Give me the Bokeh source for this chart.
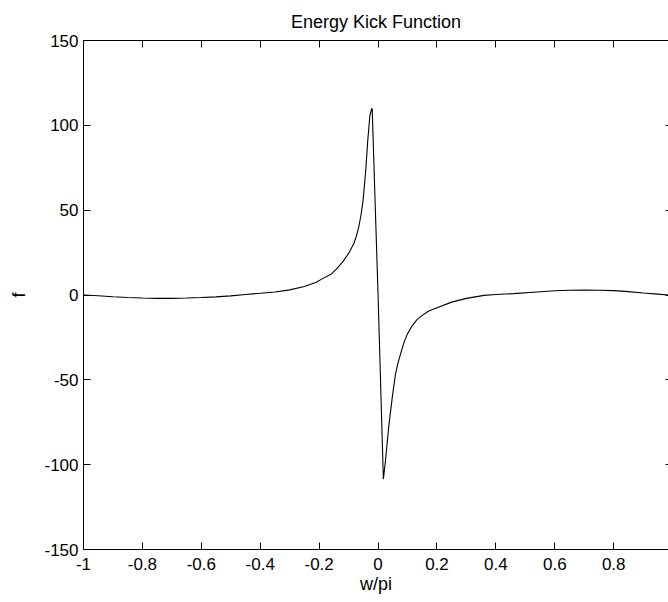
from bokeh.plotting import figure
from bokeh.models import Range1d, LinearAxis, FixedTicker
from bokeh.embed import file_html
from bokeh.resources import INLINE

# ---- data ----
w_pi = [-1.0, -0.95, -0.9, -0.85, -0.8, -0.75, -0.7, -0.65, -0.6, -0.55, -0.5,
        -0.45, -0.4, -0.35, -0.3, -0.25, -0.21, -0.19, -0.16, -0.14, -0.12,
        -0.1, -0.083, -0.074, -0.066, -0.058, -0.051, -0.042, -0.035, -0.028,
        -0.023, -0.02,
        0.0, 0.018, 0.025, 0.036, 0.048, 0.059, 0.067, 0.076, 0.087, 0.099,
        0.115, 0.133, 0.15, 0.172, 0.2, 0.25, 0.3, 0.36, 0.4, 0.46, 0.54,
        0.6, 0.65, 0.7, 0.75, 0.8, 0.85, 0.9, 0.95, 0.985]
f_vals = [0.0, -0.4, -1.0, -1.5, -1.8, -2.0, -2.0, -1.8, -1.5, -1.1, -0.5,
          0.3, 1.0, 1.8, 3.0, 5.0, 7.5, 9.5, 12.2, 15.5, 19.5,
          24.5, 30.0, 34.5, 39.7, 47.0, 55.5, 73.0, 91.0, 105.5,
          109.0, 110.0,
          0.0, -108.5, -98.0, -78.0, -60.6, -46.8, -40.5, -35.0, -28.5, -23.2,
          -18.3, -14.4, -12.0, -9.4, -7.5, -4.2, -2.0, -0.2, 0.3, 0.8, 1.8,
          2.5, 2.8, 2.9, 2.8, 2.6, 2.0, 1.2, 0.5, 0.0]

x_ticks = [-1.0, -0.8, -0.6, -0.4, -0.2, 0.0, 0.2, 0.4, 0.6, 0.8]
x_tick_labels = ["-1", "-0.8", "-0.6", "-0.4", "-0.2", "0", "0.2", "0.4", "0.6", "0.8"]
y_ticks = [-150, -100, -50, 0, 50, 100, 150]
y_tick_labels = ["-150", "-100", "-50", "0", "50", "100", "150"]

FONT = "Liberation Sans"

p = figure(width=668, height=602, output_backend="svg", toolbar_location=None,
           x_range=Range1d(-1, 0.986), y_range=Range1d(-150, 150),
           x_axis_location=None, y_axis_location=None)
p.min_border_left = 83
p.min_border_right = 0
p.min_border_top = 39
p.min_border_bottom = 53
p.outline_line_color = None
p.background_fill_color = "white"
p.border_fill_color = "white"
p.xgrid.visible = False
p.ygrid.visible = False

p.title.text = "Energy Kick Function"
p.title.align = "center"
p.title.text_font = FONT
p.title.text_font_size = "18px"
p.title.text_font_style = "normal"
p.title.text_color = "black"
p.title.standoff = 18


def style(ax):
    ax.axis_line_color = "black"
    ax.axis_line_width = 1
    ax.major_tick_line_color = "black"
    ax.major_tick_in = 7
    ax.major_tick_out = 0
    ax.minor_tick_line_color = None
    ax.major_label_text_font = FONT
    ax.major_label_text_font_size = "17px"
    ax.major_label_text_color = "black"
    ax.axis_label_text_font = FONT
    ax.axis_label_text_font_size = "18px"
    ax.axis_label_text_font_style = "normal"
    ax.axis_label_text_color = "black"


xb = LinearAxis(ticker=FixedTicker(ticks=x_ticks), axis_label="w/pi")
xb.major_label_overrides = dict(zip(x_ticks, x_tick_labels))
style(xb)
xb.major_label_standoff = 8
xb.axis_label_standoff = 1
p.add_layout(xb, "below")

yl = LinearAxis(ticker=FixedTicker(ticks=y_ticks), axis_label="f")
yl.major_label_overrides = dict(zip(y_ticks, y_tick_labels))
style(yl)
yl.major_label_standoff = 5
yl.axis_label_standoff = 12
p.add_layout(yl, "left")

# box ticks on the top and right sides (no labels there)
xt = LinearAxis(ticker=FixedTicker(ticks=x_ticks))
style(xt)
xt.major_label_overrides = {t: "" for t in x_ticks}
xt.major_label_standoff = 0
p.add_layout(xt, "above")

yr = LinearAxis(ticker=FixedTicker(ticks=y_ticks))
style(yr)
yr.major_label_overrides = {t: "" for t in y_ticks}
yr.major_label_standoff = 0
yr.axis_line_color = None
yr.major_tick_in = 3
p.add_layout(yr, "right")

p.line(w_pi, f_vals, line_color="black", line_width=1.1)

open("out.html", "w").write(file_html(p, INLINE))
